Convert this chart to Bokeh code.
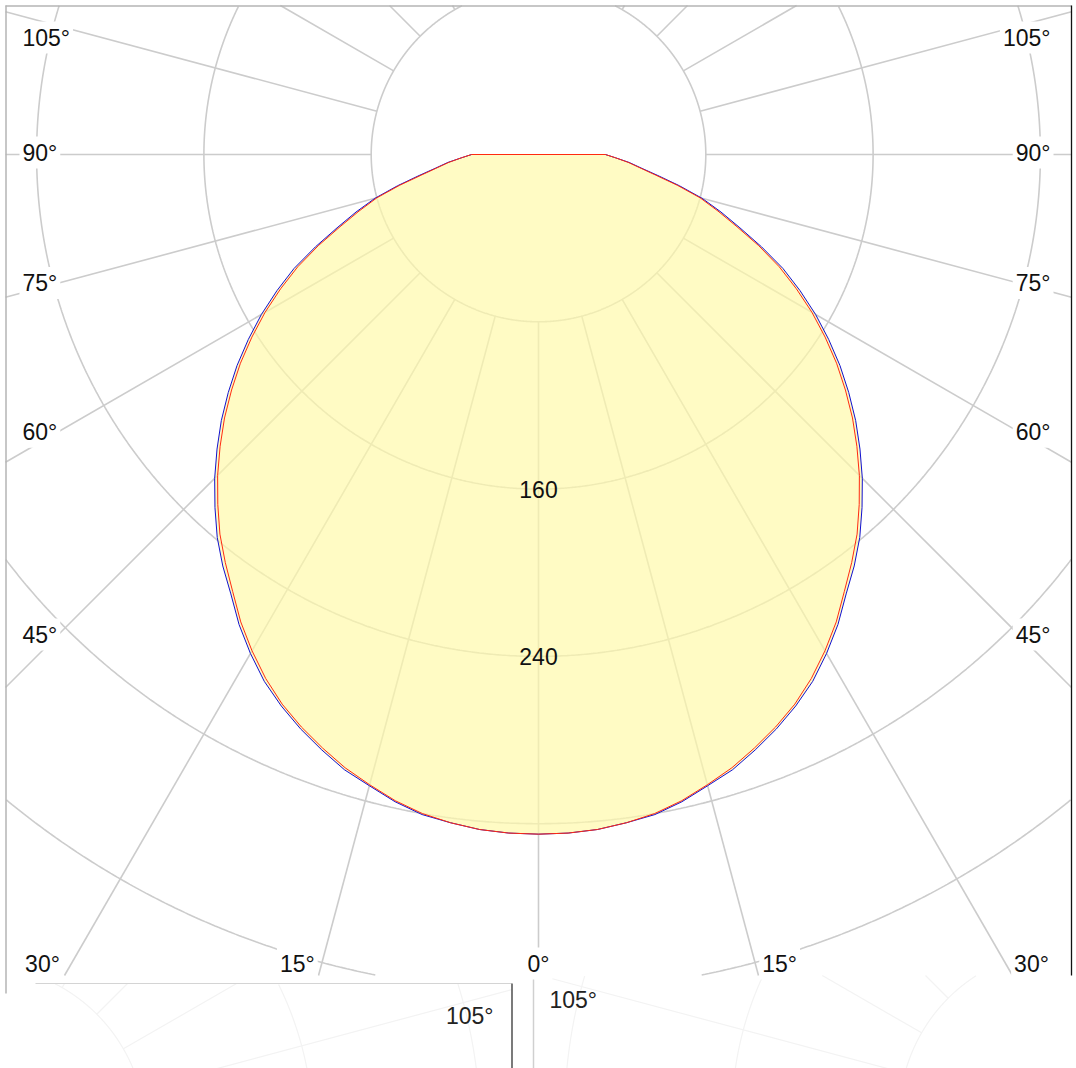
import numpy as np
from bokeh.plotting import figure
from bokeh.models import Range1d
from bokeh.core.properties import value
from bokeh.embed import file_html
from bokeh.resources import INLINE

# ---- data -------------------------------------------------------------
gamma = [0, 2.5, 5, 7.5, 10, 12.5, 15, 17.5, 20, 22.5, 25, 27.5, 30, 32.5, 35, 37.5, 40, 42.5,
         45, 47.5, 50, 52.5, 55, 57.5, 60, 62.5, 65, 67.5, 70, 72.5, 75, 77.5, 80, 82.5, 85, 87.5, 90]
c0_c180 = [325, 324.8, 324, 322.3, 320, 316.5, 312, 307.5, 302, 296.3, 290, 282.5, 274, 265, 255,
           246, 237, 227, 217, 206.5, 196, 185, 174, 162.5, 151, 139, 127, 114, 101, 90, 80, 68,
           57, 49, 43, 37, 32]
c90_c270 = [325, 324.8, 324, 322.3, 320.5, 317, 312.5, 308.5, 303, 297.3, 291, 284, 275.5, 266.5,
            256.5, 248, 239, 229, 219, 208.5, 198, 187, 176, 164.5, 153, 141, 129, 115.5, 102.5,
            91.5, 81, 69, 58, 49.5, 43.5, 37, 32]
ring_values = [80, 160, 240, 320, 400, 480, 560]
ring_labels = [160, 240]
side_label_angles = [45, 60, 75, 90, 105]
bottom_label_angles = [0, 15, 30]
spoke_step = 15

# ---- geometry (page pixels -> candela scale) ---------------------------
S = 80 / 167.3            # cd per pixel
CX, CY = 538, 154         # polar origin in page pixels
FONT = value("Liberation Sans")
W, H = 1076, 1068


def dx(px):
    return (px - CX) * S


def dy(py):
    return (CY - py) * S


p = figure(width=W, height=H, output_backend="svg", toolbar_location=None,
           x_range=Range1d(dx(0), dx(W)), y_range=Range1d(dy(H), dy(0)),
           min_border=0, background_fill_color="white", border_fill_color="white")
p.axis.visible = False
p.grid.visible = False
p.outline_line_color = None


def polar_grid(cx, cy, rect, color, width):
    """cx, cy: origin (data units); rect = (L, R, B, T) in data units."""
    L, R, B, T = rect
    th = np.linspace(0, 2 * np.pi, 1441)
    xs_all, ys_all = [], []
    for r in ring_values:
        x = cx + r * np.cos(th)
        y = cy + r * np.sin(th)
        out = (x < L) | (x > R) | (y < B) | (y > T)
        x = np.where(out, np.nan, x)
        y = np.where(out, np.nan, y)
        xs_all += list(x) + [np.nan]
        ys_all += list(y) + [np.nan]
    p.line(xs_all, ys_all, line_color=color, line_width=width)
    x0s, y0s, x1s, y1s = [], [], [], []
    r0 = ring_values[0]
    for a in range(-180 + spoke_step, 181, spoke_step):
        ux, uy = np.sin(np.radians(a)), -np.cos(np.radians(a))
        t_hi, t_lo = [], [r0]
        if ux > 1e-9:
            t_hi.append((R - cx) / ux); t_lo.append((L - cx) / ux)
        if ux < -1e-9:
            t_hi.append((L - cx) / ux); t_lo.append((R - cx) / ux)
        if uy > 1e-9:
            t_hi.append((T - cy) / uy); t_lo.append((B - cy) / uy)
        if uy < -1e-9:
            t_hi.append((B - cy) / uy); t_lo.append((T - cy) / uy)
        t_end, t_in = min(t_hi), max(t_lo)
        if t_end <= t_in:
            continue
        x0s.append(cx + t_in * ux); y0s.append(cy + t_in * uy)
        x1s.append(cx + t_end * ux); y1s.append(cy + t_end * uy)
    p.segment(x0s, y0s, x1s, y1s, line_color=color, line_width=width)


FS = "23px"

# ---- faint fragments of neighbouring diagrams (bottom) ----------------
polar_grid(dx(-22), dy(1132), (dx(35), dx(511), dy(1070), dy(983)), "#F3F3F3", 1.2)
polar_grid(dx(1066), dy(1116), (dx(533), dx(1071), dy(1070), dy(975)), "#F3F3F3", 1.2)
p.segment([dx(35)], [dy(983)], [dx(511)], [dy(983)], line_color="#D4D4D4", line_width=1.2)
p.segment([dx(511.5)], [dy(983)], [dx(511.5)], [dy(1070)], line_color="#222222", line_width=1.2)
p.segment([dx(533)], [dy(976)], [dx(533)], [dy(1070)], line_color="#D0D0D0", line_width=1.5)
p.text([dx(493)], [dy(1015)], text=["105\u00b0"], text_font=FONT, text_font_size=FS,
       text_align="right", text_baseline="middle", text_color="#222222")
p.text([dx(549)], [dy(999)], text=["105\u00b0"], text_font=FONT, text_font_size=FS,
       text_align="left", text_baseline="middle", text_color="#222222")

# ---- main diagram -----------------------------------------------------
MAIN = (dx(5), dx(1071), dy(975), dy(5))
polar_grid(0.0, 0.0, MAIN, "#CCCCCC", 1.6)

g = np.radians(np.array(gamma, dtype=float))


def outline(vals):
    v = np.array(vals, dtype=float)
    xr, yr = v * np.sin(g), -v * np.cos(g)
    xs = np.concatenate([-xr[::-1], xr[1:]])
    ys = np.concatenate([yr[::-1], yr[1:]])
    return xs, ys


xs_r, ys_r = outline(c0_c180)
xs_b, ys_b = outline(c90_c270)
p.patch(xs_b, ys_b, fill_color="#FFF9A8", fill_alpha=0.68, line_color=None)
p.line(np.append(xs_b, xs_b[0]), np.append(ys_b, ys_b[0]), line_color="#1010D0", line_width=1)
p.line(np.append(xs_r, xs_r[0]), np.append(ys_r, ys_r[0]), line_color="#FF2A10", line_width=1)

# ring value labels along the 0 deg spoke
p.text([0] * len(ring_labels), [-v for v in ring_labels], text=[str(v) for v in ring_labels],
       text_font=FONT, text_font_size=FS, text_align="center", text_baseline="middle",
       text_color="#111111")

# frame
p.segment([dx(5)], [dy(5.5)], [dx(1071)], [dy(5.5)], line_color="#B4B4B4", line_width=1.5)
p.segment([dx(5.5)], [dy(5)], [dx(5.5)], [dy(993)], line_color="#B4B4B4", line_width=1.5)
p.segment([dx(1071)], [dy(5)], [dx(1071)], [dy(975)], line_color="#111111", line_width=1.3)

# angle labels
lab = [f"{a}\u00b0" for a in side_label_angles]
ys_side = [min(dy(CY + 480 / np.tan(np.radians(a))), dy(37)) if a != 90 else dy(152)
           for a in side_label_angles]
common = dict(text_font=FONT, text_font_size=FS, text_baseline="middle", text_color="#111111",
              background_fill_color="white", padding=3)
p.text([dx(19)] * len(lab), ys_side, text=lab, text_align="left", **common)
p.text([dx(1053)] * len(lab), ys_side, text=lab, text_align="right", **common)

bx, bt = [], []
for a in bottom_label_angles:
    for sgn in ([0] if a == 0 else [-1, 1]):
        x = CX + sgn * 900 * np.tan(np.radians(a))
        x = min(max(x, 42), 1031)
        bx.append(dx(x))
        bt.append(f"{a}\u00b0")
p.text(bx, [dy(963)] * len(bx), text=bt, text_align="center", **common)

open("out.html", "w").write(file_html(p, INLINE))
